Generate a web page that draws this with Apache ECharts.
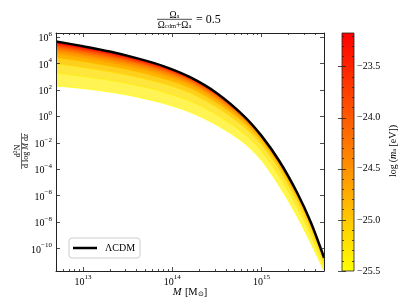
<!DOCTYPE html>
<html><head><meta charset="utf-8">
<script src="https://cdn.jsdelivr.net/npm/echarts@6/dist/echarts.min.js"></script>
<style>html,body{margin:0;padding:0;background:#fff}#c{width:411px;height:308px}</style>
</head><body><div id="c"></div>
<script>
// ---- data (log10 values) ----
const logM = [12.7, 13.0, 13.3, 13.6, 13.9, 14.2, 14.5, 14.8, 15.0, 15.2, 15.4, 15.55, 15.7];
const lcdm = [5.66, 5.30, 4.90, 4.40, 3.80, 2.96, 1.75, 0.04, -1.48, -3.40, -5.80, -8.0, -10.7];
const logMa = [-23.2, -23.4, -23.6, -23.8, -24.0, -24.2, -24.4, -24.6, -24.8, -25.0, -25.2, -25.35, -25.5];
const c_232 = [5.59, 5.23, 4.83, 4.34, 3.75, 2.93, 1.72, 0.02, -1.49, -3.41, -5.81, -8.01, -10.71];
const c_234 = [5.53, 5.17, 4.78, 4.29, 3.71, 2.89, 1.69, 0.00, -1.50, -3.42, -5.82, -8.02, -10.71];
const c_236 = [5.47, 5.12, 4.73, 4.25, 3.67, 2.86, 1.66, -0.02, -1.51, -3.43, -5.83, -8.03, -10.72];
const c_238 = [5.39, 5.04, 4.65, 4.18, 3.61, 2.82, 1.62, -0.04, -1.53, -3.45, -5.85, -8.04, -10.73];
const c_240 = [5.30, 4.96, 4.57, 4.11, 3.55, 2.76, 1.57, -0.07, -1.55, -3.47, -5.87, -8.06, -10.74];
const c_242 = [5.20, 4.86, 4.48, 4.03, 3.47, 2.69, 1.51, -0.12, -1.58, -3.50, -5.90, -8.09, -10.75];
const c_244 = [5.08, 4.74, 4.37, 3.93, 3.38, 2.62, 1.44, -0.16, -1.62, -3.54, -5.93, -8.12, -10.77];
const c_246 = [4.92, 4.60, 4.22, 3.79, 3.24, 2.50, 1.33, -0.24, -1.67, -3.59, -5.98, -8.16, -10.80];
const c_248 = [4.72, 4.40, 4.04, 3.62, 3.08, 2.35, 1.19, -0.34, -1.74, -3.67, -6.05, -8.22, -10.84];
const c_250 = [4.43, 4.13, 3.78, 3.37, 2.84, 2.12, 0.98, -0.49, -1.87, -3.80, -6.17, -8.33, -10.91];
const c_252 = [3.98, 3.70, 3.37, 2.97, 2.46, 1.76, 0.66, -0.78, -2.14, -4.07, -6.43, -8.56, -11.05];
const c_2535 = [3.27, 3.03, 2.72, 2.34, 1.84, 1.15, 0.10, -1.29, -2.64, -4.58, -6.92, -8.99, -11.32];
const c_255 = [2.30, 2.10, 1.83, 1.47, 0.98, 0.30, -0.68, -2.0, -3.35, -5.3, -7.6, -9.6, -11.7];
const curves = [c_232, c_234, c_236, c_238, c_240, c_242, c_244, c_246, c_248, c_250, c_252, c_2535, c_255];

const xLim = [5e12, 5e15];
const yLim = [2e-12, 2e6];
const xMajor = [1e13, 1e14, 1e15];
const yMajor = [1e6, 1e4, 1e2, 1e0, 1e-2, 1e-4, 1e-6, 1e-8, 1e-10];
const cbMin = -25.5, cbMax = -23.17;
const cbMajor = [-25.5, -25.0, -24.5, -24.0, -23.5];

// ---- helpers ----
const xMinor = [];
for (let e = 12; e <= 15; e++) for (let k = 2; k <= 9; k++) { const v = k * Math.pow(10, e); if (v > xLim[0] && v < xLim[1]) xMinor.push(v); }
const cbMinor = [];
for (let i = -254; i <= -232; i++) { if (i % 5 !== 0) cbMinor.push(i / 10); }

function cmapT(v) { return Math.min(1, Math.max(0, (v - cbMin) / (cbMax - cbMin))); }
function cmap(v) { const t = cmapT(v); return 'rgb(255,' + Math.round(255 * (1 - t)) + ',0)'; }
function cmapPale(v) {
  const t = cmapT(v); const w = Math.max(0, 0.42 - 1.4 * t);
  const g = 255 * (1 - t);
  return 'rgb(255,' + Math.round(g + (255 - g) * w) + ',' + Math.round(255 * w) + ')';
}
const FONT = 'Liberation Serif';
const sup = v => { const e = Math.round(Math.log10(v)); return '{b|10}{s|' + (e < 0 ? '\u2212' + (-e) : e) + '}'; };
const richExp = { b: { fontSize: 10, fontFamily: FONT, color: '#000', verticalAlign: 'bottom', lineHeight: 13 }, s: { fontSize: 7, fontFamily: FONT, color: '#000', verticalAlign: 'top', lineHeight: 8 } };

const axLine = { show: true, lineStyle: { color: '#222', width: 1 } };
function xAx(pos, ticks, len, labels, line) {
  return { type: 'log', gridIndex: 0, min: xLim[0], max: xLim[1], position: pos, z: 10,
    axisLine: line ? axLine : { show: false },
    axisTick: { show: true, inside: true, length: len, customValues: ticks, lineStyle: { color: '#222', width: 0.8 } },
    axisLabel: labels ? { show: true, customValues: xMajor, margin: 3, formatter: sup, rich: richExp } : { show: false },
    splitLine: { show: false }, minorTick: { show: false } };
}
function yAx(pos, labels) {
  return { type: 'log', gridIndex: 0, min: yLim[0], max: yLim[1], position: pos, z: 10,
    axisLine: axLine,
    axisTick: { show: true, inside: true, length: 4, customValues: yMajor, lineStyle: { color: '#222', width: 0.8 } },
    axisLabel: labels ? { show: true, customValues: yMajor, margin: 4, formatter: sup, rich: richExp } : { show: false },
    splitLine: { show: false } };
}
function cbAx(pos, ticks, len, labels) {
  return { type: 'value', gridIndex: 1, min: cbMin, max: cbMax, position: pos, z: 10,
    axisLine: { show: false },
    axisTick: { show: true, inside: true, length: len, customValues: ticks, lineStyle: { color: '#222', width: 0.8 } },
    axisLabel: labels ? { show: true, customValues: cbMajor, margin: 3, fontSize: 10, fontFamily: FONT, color: '#000',
      formatter: v => v.toFixed(1).replace('-', '\u2212') } : { show: false },
    splitLine: { show: false } };
}

const series = [];
curves.forEach((c, k) => {
  const last = k === curves.length - 1;
  series.push({ type: 'line', xAxisIndex: 0, yAxisIndex: 0, showSymbol: false, silent: true, smooth: 0.3,
    data: logM.map((x, j) => [Math.pow(10, x), Math.pow(10, c[j])]),
    lineStyle: { color: cmap(logMa[k]), width: 0.7 },
    areaStyle: { color: last ? '#ffffff' : cmapPale(logMa[k]), opacity: 1, origin: 'start' }, z: 2 });
});
series.push({ type: 'line', name: '\u039bCDM', xAxisIndex: 0, yAxisIndex: 0, showSymbol: false, smooth: 0.3,
  data: logM.map((x, j) => [Math.pow(10, x), Math.pow(10, lcdm[j])]),
  lineStyle: { color: '#000', width: 2.5 }, itemStyle: { color: '#000' }, z: 4 });
series.push({ type: 'custom', xAxisIndex: 4, yAxisIndex: 2, silent: true, data: [[0, cbMin, 1, cbMax]],
  renderItem: (params, api) => {
    const p0 = api.coord([api.value(0), api.value(1)]);
    const p1 = api.coord([api.value(2), api.value(3)]);
    return { type: 'rect', shape: { x: p0[0], y: p1[1], width: p1[0] - p0[0], height: p0[1] - p1[1] },
      style: { fill: new echarts.graphic.LinearGradient(0, 0, 0, 1, [{ offset: 0, color: cmap(cbMax) }, { offset: 1, color: cmap(cbMin) }]),
        stroke: '#222', lineWidth: 0.8 } };
  } });

const fracRich = { o: { fontSize: 9.5, fontFamily: FONT, verticalAlign: 'bottom', lineHeight: 11 }, s: { fontSize: 6.5, fontFamily: FONT, verticalAlign: 'bottom', lineHeight: 8.5 } };
const chart = echarts.init(document.getElementById('c'), null, { renderer: 'canvas' });
chart.setOption({
  animation: false,
  backgroundColor: '#fff',
  grid: [{ left: 56, top: 33, width: 268, height: 238 }, { left: 342, top: 33, width: 12, height: 238 }],
  xAxis: [xAx('bottom', xMajor, 4, true, true), xAx('bottom', xMinor, 2, false, false),
          xAx('top', xMajor, 4, false, true), xAx('top', xMinor, 2, false, false),
          { type: 'value', gridIndex: 1, min: 0, max: 1, show: false }],
  yAxis: [yAx('left', true), yAx('right', false),
          cbAx('right', cbMajor, 4, true), cbAx('right', cbMinor, 2, false),
          cbAx('left', cbMajor, 4, false), cbAx('left', cbMinor, 2, false)],
  legend: { data: ['\u039bCDM'], left: 69, top: 238, orient: 'vertical', icon: 'rect', itemWidth: 24, itemHeight: 2.5,
    padding: [5, 5, 5, 4], backgroundColor: '#fff', borderColor: '#ccc', borderWidth: 1, borderRadius: 3,
    textStyle: { fontSize: 10, fontFamily: FONT, color: '#000', padding: [0, 0, 0, 3] } },
  graphic: [
    { type: 'text', x: 174.5, y: 14.5, style: { text: '{o|\u03a9}{s|a}', align: 'center', verticalAlign: 'middle', rich: fracRich } },
    { type: 'line', shape: { x1: 157, y1: 19.3, x2: 192, y2: 19.3 }, style: { stroke: '#000', lineWidth: 0.7 } },
    { type: 'text', x: 174.5, y: 24.5, style: { text: '{o|\u03a9}{s|cdm}{o|+\u03a9}{s|a}', align: 'center', verticalAlign: 'middle', rich: fracRich } },
    { type: 'text', x: 196, y: 20, style: { text: '= 0.5', fontSize: 12, fontFamily: FONT, fill: '#000', align: 'left', verticalAlign: 'middle' } },
    { type: 'text', x: 190, y: 292, style: { text: '{i|M} {r|[M}{s|\u2299}{r|]}', align: 'center', verticalAlign: 'middle',
      rich: { i: { fontSize: 10.5, fontFamily: FONT, fontStyle: 'italic', verticalAlign: 'bottom', lineHeight: 12 }, r: { fontSize: 10.5, fontFamily: FONT, verticalAlign: 'bottom', lineHeight: 12 }, s: { fontSize: 7, fontFamily: FONT, verticalAlign: 'bottom', lineHeight: 9 } } } },
    { type: 'group', x: 21.5, y: 151, rotation: Math.PI / 2, children: [
      { type: 'text', x: 0, y: -4.5, style: { text: '{r|d}{s|2}{r|N}', align: 'center', verticalAlign: 'middle',
        rich: { r: { fontSize: 8, fontFamily: FONT, verticalAlign: 'bottom', lineHeight: 9 }, s: { fontSize: 5.5, fontFamily: FONT, verticalAlign: 'top', lineHeight: 6 } } } },
      { type: 'line', shape: { x1: -18, y1: 0, x2: 18, y2: 0 }, style: { stroke: '#000', lineWidth: 0.6 } },
      { type: 'text', x: 0, y: 4.8, style: { text: 'd log {i|M} d{i|z}', align: 'center', verticalAlign: 'middle', fontSize: 8, fontFamily: FONT,
        rich: { i: { fontSize: 8, fontFamily: FONT, fontStyle: 'italic' } } } }
    ] },
    { type: 'group', x: 392, y: 151, rotation: Math.PI / 2, children: [
      { type: 'text', x: 0, y: 0, style: { text: '{r|log\u2009(}{i|m}{s|a}{r|\u2009[eV])}', align: 'center', verticalAlign: 'middle',
        rich: { r: { fontSize: 10, fontFamily: FONT, verticalAlign: 'bottom', lineHeight: 12 }, i: { fontSize: 10, fontFamily: FONT, fontStyle: 'italic', verticalAlign: 'bottom', lineHeight: 12 }, s: { fontSize: 7, fontFamily: FONT, verticalAlign: 'bottom', lineHeight: 9 } } } }
    ] }
  ],
  series: series
});
</script></body></html>
